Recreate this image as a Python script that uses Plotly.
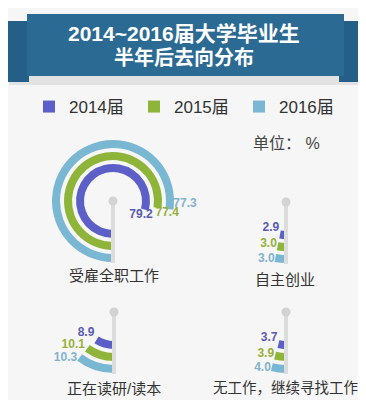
import math
import plotly.graph_objects as go

# ---------------- data ----------------
years = ["2014届", "2015届", "2016届"]
categories = ["受雇全职工作", "自主创业", "正在读研/读本", "无工作，继续寻找工作"]
v2014 = [79.2, 2.9, 8.9, 3.7]
v2015 = [77.4, 3.0, 10.1, 3.9]
v2016 = [77.3, 3.0, 10.3, 4.0]
series = [v2014, v2015, v2016]
title_lines = ["2014~2016届大学毕业生", "半年后去向分布"]
unit_text = "单位： %"

# ---------------- style ----------------
# the page body has an 8px margin (top/left); figure fills the rest of the window
OX, OY = 8, 8
W, H = 358, 392
BG = "#f6f6f6"
colors = ["#5b5fc7", "#8fb43a", "#7ab7d3"]
label_colors = ["#585db0", "#97b03a", "#82b3cb"]
FONT = "Liberation Sans, Arial, Noto Sans CJK SC, sans-serif"

centers = [(113, 201), (286, 202), (114, 312), (286, 312)]   # window px
cat_label_pos = [(114, 275), (285, 279), (114, 388), (285.5, 388)]
cat_label_size = [15, 15, 15, 14.5]
R = 64                # polar radius in px (radial range 0..R)
bases = [29, 41, 53]  # inner radius of each ring
thick = 8             # ring thickness
label_dy = [-10, -6, -3]   # px nudge of small-chart labels above the arc end


def px(x):
    return (x - OX) / W


def py(y):
    return 1 - (y - OY) / H


def nudge(r, theta_deg, dx, dy):
    """polar point (clockwise from bottom) shifted by dx, dy screen px."""
    t = math.radians(theta_deg)
    x = -r * math.sin(t) + dx
    yd = r * math.cos(t) + dy
    return math.hypot(x, yd), math.degrees(math.atan2(-x, yd)) % 360


fig = go.Figure()
layout_polars = {}

for ci, (cx, cy) in enumerate(centers):
    name = "polar" if ci == 0 else f"polar{ci + 1}"
    layout_polars[name] = dict(
        domain=dict(x=[px(cx - R), px(cx + R)], y=[py(cy + R), py(cy - R)]),
        bgcolor="rgba(0,0,0,0)",
        radialaxis=dict(range=[0, R], visible=False, showgrid=False),
        angularaxis=dict(visible=False, showgrid=False, rotation=270,
                         direction="clockwise", thetaunit="degrees"),
    )
    # arcs
    for yi in range(3):
        v = series[yi][ci]
        fig.add_trace(go.Barpolar(
            r=[thick], base=[bases[yi]],
            theta=[v * 3.6 / 2], width=[v * 3.6],
            marker=dict(color=colors[yi], line=dict(width=0)),
            name=years[yi], legendgroup=years[yi],
            showlegend=(ci == 0), subplot=name, hoverinfo="skip",
        ))
    # pole and knob
    fig.add_trace(go.Scatterpolar(
        r=[0, bases[2] + thick + 1], theta=[0, 0], mode="lines",
        line=dict(color="#dcdcdc", width=4), showlegend=False,
        subplot=name, hoverinfo="skip",
    ))
    fig.add_trace(go.Scatterpolar(
        r=[0], theta=[0], mode="markers",
        marker=dict(color="#d3d3d3", size=9), showlegend=False,
        subplot=name, hoverinfo="skip",
    ))
    # value labels
    vals = [series[yi][ci] for yi in range(3)]
    if ci == 0:
        rr = [bases[0], bases[1] + 2, bases[2] + thick]
        tt = [v * 3.6 for v in vals]
        tp = ["bottom center", "bottom right", "top right"]
    else:
        pts = [nudge(bases[yi] + thick, vals[yi] * 3.6, 0, label_dy[yi]) for yi in range(3)]
        rr = [p[0] for p in pts]
        tt = [p[1] for p in pts]
        tp = ["middle left"] * 3
    fig.add_trace(go.Scatterpolar(
        r=rr, theta=tt, mode="text",
        text=[f"{v:.1f}" for v in vals], textposition=tp,
        textfont=dict(color=label_colors, size=12, family=FONT, weight="bold"),
        cliponaxis=False, showlegend=False, subplot=name, hoverinfo="skip",
    ))

# ---------------- banner shapes ----------------
def rect(x0, y0, x1, y1, color):
    return dict(type="rect", xref="paper", yref="paper", x0=px(x0), x1=px(x1),
                y0=py(y1), y1=py(y0), fillcolor=color, line=dict(width=0),
                layer="below")


shapes = [
    rect(9, 24, 365, 85, "#e2e2e2"),   # soft shadow
    rect(6, 21, 29, 82, "#245f88"),    # left tab
    rect(339, 21, 362, 82, "#245f88"), # right tab
    rect(27, 14, 344, 76, "#2b6b93"),  # main banner
]

annotations = []
for li, (txt, yy) in enumerate(zip(title_lines, [33, 58])):
    annotations.append(dict(
        text=f"<b>{txt}</b>", x=px(184), y=py(yy), xref="paper", yref="paper",
        showarrow=False, xanchor="center", yanchor="middle",
        font=dict(color="white", size=21 if li == 0 else 20, family=FONT),
    ))
annotations.append(dict(
    text=unit_text, x=px(322), y=py(143), xref="paper", yref="paper",
    showarrow=False, xanchor="right", yanchor="middle",
    font=dict(color="#444444", size=16, family=FONT),
))
for cat, (lx, ly), fs in zip(categories, cat_label_pos, cat_label_size):
    annotations.append(dict(
        text=cat, x=px(lx), y=py(ly), xref="paper", yref="paper",
        showarrow=False, xanchor="center", yanchor="middle",
        font=dict(color="#333333", size=fs, family=FONT),
    ))

fig.update_layout(
    width=W, height=H,
    margin=dict(l=0, r=0, t=0, b=0),
    paper_bgcolor=BG, plot_bgcolor=BG,
    showlegend=True,
    legend=dict(orientation="h", x=px(29), y=py(89), xanchor="left", yanchor="top",
                font=dict(size=17, color="#333333", family=FONT),
                bgcolor="rgba(0,0,0,0)", entrywidth=60, entrywidthmode="pixels",
                itemclick=False, itemdoubleclick=False, traceorder="normal"),
    shapes=shapes,
    annotations=annotations,
    **layout_polars,
)

fig.write_html("out.html")
